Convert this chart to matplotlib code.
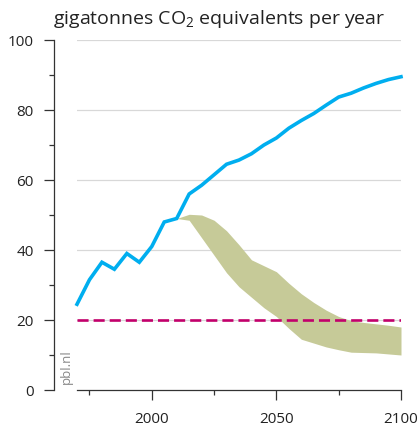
import numpy as np
import matplotlib
matplotlib.use("Agg")
import matplotlib.pyplot as plt
from matplotlib.ticker import MultipleLocator

plt.rcParams['font.family'] = ['Open Sans', 'DejaVu Sans']
plt.rcParams['mathtext.fontset'] = 'custom'
plt.rcParams['mathtext.rm'] = 'Open Sans'
plt.rcParams['mathtext.it'] = 'Open Sans'

# baseline emissions, history + projection (5-year steps)
years = [1970, 1975, 1980, 1985, 1990, 1995, 2000, 2005, 2010, 2015,
         2020, 2025, 2030, 2035, 2040, 2045, 2050, 2055, 2060, 2065,
         2070, 2075, 2080, 2085, 2090, 2095, 2100]
baseline = [24.5, 31.5, 36.5, 34.5, 39.0, 36.5, 41.0, 48.0, 49.0, 56.0,
            58.5, 61.5, 64.5, 65.7, 67.5, 70.0, 72.0, 74.8, 77.0, 79.0,
            81.4, 83.7, 84.8, 86.3, 87.6, 88.7, 89.5]

# 2 degree pathway range
band_years = [2010, 2015, 2020, 2025, 2030, 2035, 2040, 2045, 2050, 2055,
              2060, 2065, 2070, 2075, 2080, 2085, 2090, 2095, 2100]
band_low = [49.0, 48.5, 43.5, 38.5, 33.5, 29.5, 26.5, 23.5, 21.0, 17.6,
            14.5, 13.4, 12.3, 11.5, 10.8, 10.7, 10.6, 10.3, 10.0]
band_high = [49.0, 50.2, 50.0, 48.5, 45.5, 41.5, 37.2, 35.5, 33.8, 30.5,
             27.5, 25.0, 22.8, 21.0, 19.8, 19.3, 18.9, 18.5, 18.0]

target_years = [1970, 2100]
target = [20, 20]

W, H = 420, 426
fig = plt.figure(figsize=(W / 100, H / 100), dpi=100)
ax = fig.add_axes([77 / W, 1 - 390 / H, 324 / W, 350 / H])

ax.fill_between(band_years, band_low, band_high, color='#c6ca98', lw=0, zorder=2)
ax.plot(target_years, target, color='#c2006b', lw=1.9, dashes=(4.2, 1.9), zorder=3)
ax.plot(years, baseline, color='#00aeef', lw=2.6, solid_joinstyle='miter',
        clip_on=False, zorder=4)

ax.set_xlim(1970, 2100)
ax.set_ylim(0, 100)

for v in range(20, 101, 20):
    ax.axhline(v, color='#d8d8d8', lw=0.9, zorder=1)

for s in ['top', 'right']:
    ax.spines[s].set_visible(False)
ax.spines['left'].set_position(('outward', 16.5))
ax.spines['bottom'].set_bounds(1970, 2100)
for s in ['left', 'bottom']:
    ax.spines[s].set_color('#333333')
    ax.spines[s].set_linewidth(0.9)

ax.set_xticks([2000, 2050, 2100])
ax.set_xticks([1975, 2025, 2075], minor=True)
ax.yaxis.set_major_locator(MultipleLocator(20))
ax.yaxis.set_minor_locator(MultipleLocator(10))

ax.tick_params(axis='both', which='major', length=7.2, width=0.9, color='#333333',
               labelsize=11, labelcolor='#222222')
ax.tick_params(axis='both', which='minor', length=3.5, width=0.9, color='#333333')
ax.tick_params(axis='y', which='major', pad=7.5)
ax.tick_params(axis='x', which='major', pad=8.5)

fig.text(53 / W, 1 - 24 / H, 'gigatonnes CO$_2$ equivalents per year',
         fontsize=14, color='#222222', ha='left', va='baseline')
fig.text(66 / W, 1 - 367 / H, 'pbl.nl', rotation=90, fontsize=9.5,
         color='#888888', ha='center', va='center')

fig.savefig('out.png', dpi=100)
